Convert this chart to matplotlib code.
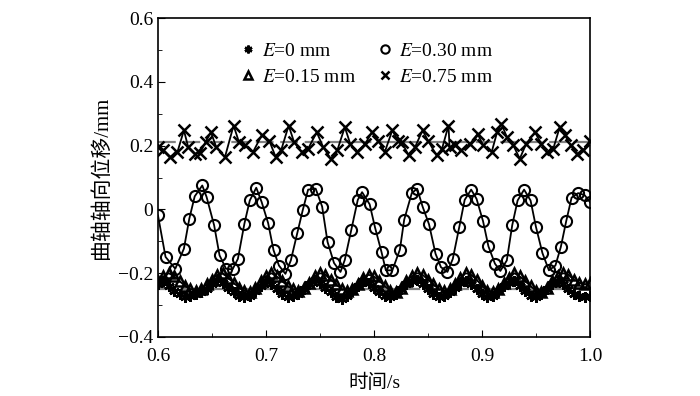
import numpy as np
import matplotlib
matplotlib.use("Agg")
import matplotlib.pyplot as plt

plt.rcParams['font.family'] = ['Liberation Serif', 'Noto Sans CJK SC']
plt.rcParams['mathtext.fontset'] = 'stix'
plt.rcParams['axes.unicode_minus'] = True

# E = 0 mm (asterisks), E = 0.15 mm (triangles): sampled every 0.005 s
t_dense = np.linspace(0.6, 1.0, 81)
e0 = [-0.235, -0.225, -0.24, -0.255, -0.265, -0.275, -0.27, -0.265, -0.26, -0.25,
      -0.235, -0.22, -0.23, -0.245, -0.26, -0.27, -0.275, -0.27, -0.255, -0.24,
      -0.225, -0.235, -0.25, -0.265, -0.275, -0.27, -0.265, -0.25, -0.235, -0.22,
      -0.23, -0.245, -0.26, -0.275, -0.28, -0.27, -0.255, -0.24, -0.225, -0.23,
      -0.245, -0.26, -0.27, -0.275, -0.265, -0.25, -0.235, -0.225, -0.22, -0.235,
      -0.25, -0.265, -0.275, -0.27, -0.26, -0.245, -0.23, -0.225, -0.235, -0.25,
      -0.265, -0.275, -0.27, -0.255, -0.24, -0.23, -0.225, -0.24, -0.255, -0.27,
      -0.275, -0.265, -0.25, -0.235, -0.225, -0.235, -0.25, -0.265, -0.27, -0.275,
      -0.27]
e015 = [-0.225, -0.21, -0.2, -0.21, -0.225, -0.24, -0.25, -0.255, -0.25, -0.235,
        -0.22, -0.205, -0.2, -0.215, -0.23, -0.245, -0.255, -0.26, -0.245, -0.225,
        -0.21, -0.2, -0.21, -0.225, -0.24, -0.25, -0.255, -0.245, -0.23, -0.21,
        -0.2, -0.205, -0.22, -0.235, -0.25, -0.255, -0.25, -0.235, -0.215, -0.205,
        -0.21, -0.225, -0.24, -0.255, -0.26, -0.245, -0.225, -0.21, -0.2, -0.205,
        -0.22, -0.235, -0.25, -0.255, -0.25, -0.235, -0.215, -0.2, -0.205, -0.22,
        -0.24, -0.255, -0.26, -0.25, -0.23, -0.215, -0.2, -0.21, -0.225, -0.24,
        -0.255, -0.26, -0.245, -0.225, -0.21, -0.2, -0.205, -0.22, -0.23, -0.235,
        -0.23]

# E = 0.30 mm (circles)
t030 = [0.600, 0.607, 0.616, 0.624, 0.629, 0.634, 0.641, 0.645, 0.652, 0.657,
        0.663, 0.669, 0.674, 0.680, 0.685, 0.691, 0.696, 0.702, 0.707, 0.712,
        0.718, 0.723, 0.729, 0.734, 0.739, 0.746, 0.752, 0.757, 0.763, 0.769,
        0.773, 0.779, 0.785, 0.789, 0.796, 0.801, 0.807, 0.811, 0.817, 0.824,
        0.828, 0.835, 0.840, 0.845, 0.851, 0.857, 0.862, 0.868, 0.873, 0.879,
        0.884, 0.890, 0.895, 0.901, 0.906, 0.912, 0.917, 0.923, 0.928, 0.933,
        0.939, 0.945, 0.950, 0.956, 0.962, 0.968, 0.973, 0.978, 0.983, 0.989,
        0.995, 1.000]
e030 = [-0.019, -0.149, -0.186, -0.123, -0.029, 0.041, 0.075, 0.039, -0.050, -0.144,
        -0.186, -0.188, -0.155, -0.045, 0.028, 0.068, 0.023, -0.043, -0.128, -0.176,
        -0.202, -0.160, -0.074, -0.003, 0.062, 0.065, 0.009, -0.102, -0.168, -0.196,
        -0.158, -0.064, 0.030, 0.054, 0.016, -0.057, -0.134, -0.191, -0.191, -0.126,
        -0.032, 0.051, 0.065, 0.009, -0.047, -0.139, -0.181, -0.196, -0.155, -0.055,
        0.030, 0.062, 0.033, -0.037, -0.116, -0.170, -0.193, -0.160, -0.050, 0.028,
        0.062, 0.028, -0.055, -0.137, -0.191, -0.176, -0.118, -0.037, 0.037, 0.051,
        0.045, 0.023]

# E = 0.75 mm (crosses)
t075 = [0.600, 0.605, 0.611, 0.618, 0.624, 0.628, 0.634, 0.639, 0.644, 0.649,
        0.654, 0.662, 0.670, 0.675, 0.681, 0.688, 0.696, 0.703, 0.709, 0.714,
        0.721, 0.726, 0.733, 0.739, 0.747, 0.753, 0.760, 0.766, 0.773, 0.778,
        0.784, 0.792, 0.798, 0.804, 0.810, 0.817, 0.822, 0.826, 0.832, 0.838,
        0.845, 0.850, 0.858, 0.863, 0.869, 0.870, 0.875, 0.881, 0.889, 0.896,
        0.901, 0.909, 0.914, 0.918, 0.923, 0.929, 0.935, 0.941, 0.949, 0.955,
        0.960, 0.966, 0.972, 0.977, 0.982, 0.988, 0.994, 1.000]
e075 = [0.195, 0.185, 0.164, 0.180, 0.248, 0.195, 0.175, 0.177, 0.211, 0.242,
        0.195, 0.164, 0.263, 0.211, 0.201, 0.180, 0.232, 0.216, 0.164, 0.185,
        0.263, 0.211, 0.180, 0.190, 0.242, 0.195, 0.159, 0.185, 0.258, 0.206,
        0.180, 0.206, 0.242, 0.216, 0.180, 0.248, 0.216, 0.211, 0.169, 0.195,
        0.248, 0.216, 0.169, 0.190, 0.263, 0.195, 0.201, 0.185, 0.206, 0.237,
        0.201, 0.180, 0.242, 0.269, 0.227, 0.201, 0.159, 0.206, 0.242, 0.206,
        0.180, 0.190, 0.258, 0.232, 0.201, 0.175, 0.185, 0.216]

ref_levels = [0.21, -0.25]

xticks = [0.6, 0.7, 0.8, 0.9, 1.0]
yticks = [-0.4, -0.2, 0.0, 0.2, 0.4, 0.6]
ytick_labels = ['\u22120.4', '\u22120.2', '0', '0.2', '0.4', '0.6']

fig = plt.figure(figsize=(7, 3.96), dpi=100)
ax = fig.add_axes([0.2257, 0.149, 0.6171, 0.8055])

for lvl in ref_levels:
    ax.axhline(lvl, color='#808080', lw=1.6, ls=(0, (8, 3)), zorder=1)

l0, = ax.plot(t_dense, e0, color='k', lw=1.3, marker=(6, 2, 0), ms=7.5, mew=1.8,
              label='$E$=0 mm', zorder=3)
l30, = ax.plot(t030, e030, color='k', lw=1.3, marker='o', ms=8, mfc='none', mew=1.5,
               label='$E$=0.30 mm', zorder=4)
l15, = ax.plot(t_dense, e015, color='k', lw=1.3, marker='^', ms=7.5, mfc='none', mew=1.8,
               label='$E$=0.15 mm', zorder=3)
l75, = ax.plot(t075, e075, color='k', lw=1.3, marker='x', ms=8, mew=1.8,
               label='$E$=0.75 mm', zorder=3)

ax.set_xlim(0.6, 1.0)
ax.set_ylim(-0.4, 0.6)
ax.set_xticks(xticks)
ax.set_xticklabels(['0.6', '0.7', '0.8', '0.9', '1.0'])
ax.set_xticks([0.65, 0.75, 0.85, 0.95], minor=True)
ax.set_yticks(yticks)
ax.set_yticklabels(ytick_labels)
ax.set_yticks([-0.3, -0.1, 0.1, 0.3, 0.5], minor=True)
ax.tick_params(which='both', direction='in', top=False, right=False, labelsize=14)
ax.tick_params(axis='x', pad=8)
ax.tick_params(which='major', length=5)
ax.tick_params(which='minor', length=3)
for sp in ax.spines.values():
    sp.set_linewidth(1.2)

ax.set_xlabel('时间/s', fontsize=14, labelpad=6)
ax.set_ylabel('曲轴轴向位移/mm', fontsize=15, labelpad=4)

leg = ax.legend([l0, l15, l30, l75],
                ['$E$=0 mm', '$E$=0.15 mm', '$E$=0.30 mm', '$E$=0.75 mm'],
                loc='upper center', bbox_to_anchor=(0.485, 0.98),
                ncol=2, frameon=False, fontsize=14, handlelength=0.6,
                handletextpad=0.4, columnspacing=1.2, labelspacing=0.45,
                markerscale=0.75)
for h in leg.get_lines():
    h.set_linestyle('none')

fig.savefig('out.png', dpi=100)
